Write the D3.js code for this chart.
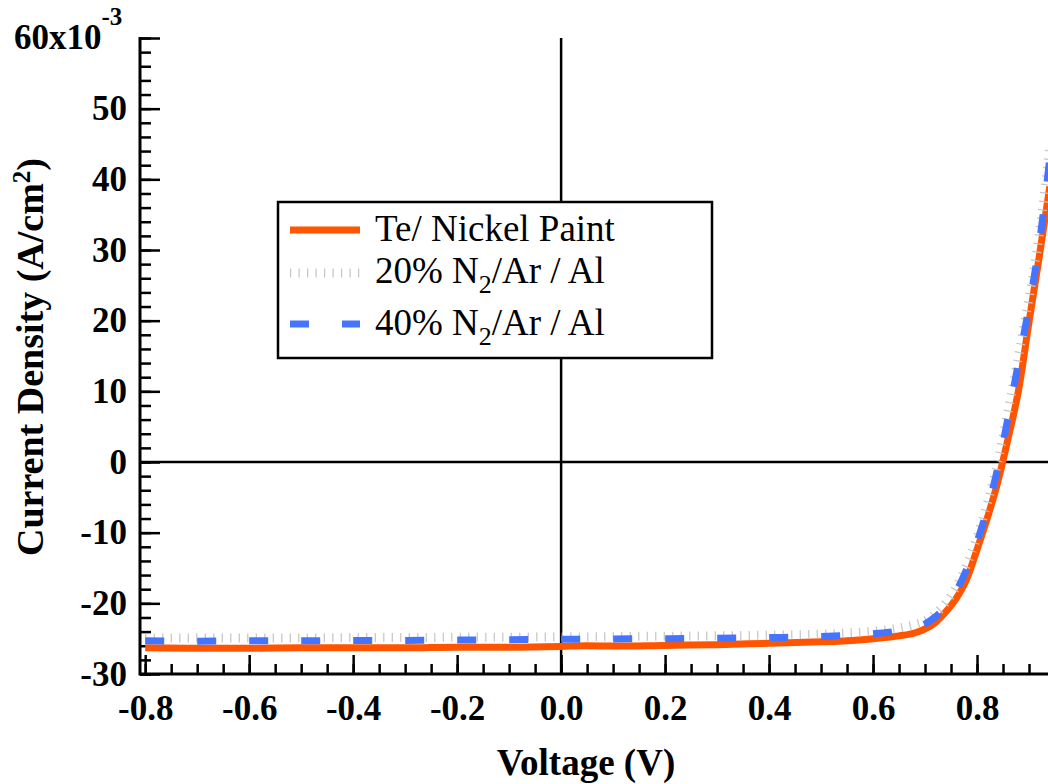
<!DOCTYPE html>
<html>
<head>
<meta charset="utf-8">
<script src="https://cdn.jsdelivr.net/npm/d3@7/dist/d3.min.js"></script>
<style>
  html, body { margin: 0; padding: 0; background: #fff; }
  svg { display: block; }
  text { font-family: "Liberation Serif", "Times New Roman", serif; fill: #000; }
</style>
</head>
<body>
<svg id="chart" width="1048" height="784"></svg>
<script>
// J–V sweep (current density in units of 1e-3 A/cm²)
const voltage = [-0.8, -0.7, -0.6, -0.5, -0.4, -0.3, -0.2, -0.1, 0.0, 0.05, 0.1, 0.2, 0.3, 0.4, 0.5, 0.55,
                 0.6, 0.65, 0.68, 0.7, 0.72, 0.74, 0.76, 0.78, 0.8, 0.82, 0.84, 0.86, 0.88, 0.9, 0.92, 0.94];
const jNickelPaint = [-26.3, -26.35, -26.35, -26.3, -26.3, -26.3, -26.2, -26.2, -26.1, -26.0, -26.05, -25.95, -25.85, -25.65, -25.45, -25.3,
                      -25.0, -24.6, -24.2, -23.6, -22.7, -21.2, -19.3, -16.6, -12.4, -7.9, -2.8, 3.4, 10.2, 19.8, 29.2, 39.0];
const j20N2Ar = [-24.9, -24.9, -24.9, -24.9, -24.85, -24.85, -24.8, -24.8, -24.75, -24.75, -24.7, -24.65, -24.6, -24.5, -24.35, -24.2,
                 -23.95, -23.5, -23.0, -22.5, -21.5, -19.9, -17.7, -14.6, -10.6, -5.8, 0.0, 7.3, 15.1, 23.2, 32.3, 44.5];
const j40N2Ar = [-25.3, -25.35, -25.3, -25.3, -25.25, -25.25, -25.2, -25.15, -25.1, -25.1, -25.05, -25.0, -24.95, -24.85, -24.7, -24.55,
                 -24.3, -23.9, -23.4, -22.9, -21.9, -20.4, -18.3, -15.2, -11.3, -6.6, -0.8, 6.4, 14.2, 22.0, 31.0, 43.0];

const seriesNames = ["Te/ Nickel Paint", "20% N2/Ar / Al", "40% N2/Ar / Al"];
const xTickValues = [-0.8, -0.6, -0.4, -0.2, 0.0, 0.2, 0.4, 0.6, 0.8];
const yTickValues = [-30, -20, -10, 0, 10, 20, 30, 40, 50, 60];

const svg = d3.select("#chart");
const W = 1048;

const x = d3.scaleLinear().domain([-0.81, 1.0]).range([140, 1081]);
const y = d3.scaleLinear().domain([-30, 60]).range([674, 38]);

// zero reference lines
svg.append("line")
  .attr("x1", x(-0.81)).attr("x2", W).attr("y1", y(0)).attr("y2", y(0))
  .attr("stroke", "#000").attr("stroke-width", 2.5);
svg.append("line")
  .attr("x1", x(0)).attr("x2", x(0)).attr("y1", y(60)).attr("y2", y(-30))
  .attr("stroke", "#000").attr("stroke-width", 2.5);

// axes (ticks point into the plot)
const xMinor = d3.range(-0.8, 1.0001, 0.05).map(v => +v.toFixed(2));
const yMinor = d3.range(-30, 60.001, 2);

const gx = svg.append("g").attr("transform", `translate(0,${y(-30)})`);
gx.call(d3.axisBottom(x).tickValues(xMinor).tickSize(-10).tickSizeOuter(0).tickFormat(""));
gx.call(g => g.selectAll(".domain").remove());
const gxMajor = svg.append("g").attr("transform", `translate(0,${y(-30)})`)
  .call(d3.axisBottom(x).tickValues(xTickValues).tickSize(-19).tickSizeOuter(0)
        .tickPadding(21).tickFormat(d => d.toFixed(1)));
gxMajor.select(".domain").remove();
gxMajor.selectAll("text").attr("font-size", 35).attr("font-weight", "bold")
  .attr("font-family", "Liberation Serif, Times New Roman, serif");

const gy = svg.append("g").attr("transform", `translate(${x(-0.81)},0)`);
gy.call(d3.axisLeft(y).tickValues(yMinor).tickSize(-11).tickSizeOuter(0).tickFormat(""));
gy.call(g => g.selectAll(".domain").remove());
const gyMajor = svg.append("g").attr("transform", `translate(${x(-0.81)},0)`)
  .call(d3.axisLeft(y).tickValues(yTickValues).tickSize(-20).tickSizeOuter(0)
        .tickPadding(13).tickFormat(d => d === 60 ? "" : String(d)));
gyMajor.select(".domain").remove();
gyMajor.selectAll("text").attr("font-size", 35).attr("font-weight", "bold")
  .attr("font-family", "Liberation Serif, Times New Roman, serif");

svg.selectAll(".tick line").attr("stroke", "#000").attr("stroke-width", 2.5);

// axis lines
svg.append("line").attr("x1", x(-0.81)).attr("x2", W).attr("y1", y(-30)).attr("y2", y(-30))
  .attr("stroke", "#000").attr("stroke-width", 3);
svg.append("line").attr("x1", x(-0.81)).attr("x2", x(-0.81)).attr("y1", y(60) - 1).attr("y2", y(-30) + 1.5)
  .attr("stroke", "#000").attr("stroke-width", 3);

// top label with exponent
const topLab = svg.append("text").attr("x", 14).attr("y", y(60)).attr("dy", "0.32em")
  .attr("font-size", 35).attr("font-weight", "bold");
topLab.append("tspan").text("60x10");
topLab.append("tspan").attr("font-size", 25).attr("dy", -24).text("-3");

// axis titles
svg.append("text").attr("x", 586).attr("y", 775).attr("text-anchor", "middle")
  .attr("font-size", 37).attr("font-weight", "bold").text("Voltage (V)");
const yTitle = svg.append("text").attr("transform", "translate(43,357) rotate(-90)")
  .attr("text-anchor", "middle").attr("font-size", 38).attr("font-weight", "bold");
yTitle.append("tspan").text("Current Density (A/cm");
yTitle.append("tspan").attr("font-size", 25).attr("dy", -13).text("2");
yTitle.append("tspan").attr("dy", 13).text(")");

// curves
const line = d3.line().x(d => x(d[0])).y(d => y(d[1])).curve(d3.curveMonotoneX);
const styles = [
  { color: "#ff5500", width: 7, dash: null },
  { color: "#c4c4c4", width: 9, dash: "1.2 7.3" },
  { color: "#4575ff", width: 7, dash: "19 33" }
];
const seriesData = [jNickelPaint, j20N2Ar, j40N2Ar];
seriesData.forEach((vals, i) => {
  const s = styles[i];
  svg.append("path")
    .datum(voltage.map((v, k) => [v, vals[k]]))
    .attr("d", line)
    .attr("fill", "none")
    .attr("stroke", s.color)
    .attr("stroke-width", s.width)
    .attr("stroke-dasharray", s.dash)
    .attr("stroke-linejoin", "round");
});

// legend
const lg = svg.append("g");
lg.append("rect").attr("x", 278).attr("y", 202).attr("width", 434).attr("height", 156)
  .attr("fill", "#fff").attr("stroke", "#000").attr("stroke-width", 2.5);
const rowY = [230, 273, 324];
const baseY = [241, 283, 335];
styles.forEach((s, i) => {
  lg.append("line").attr("x1", 290).attr("x2", 360).attr("y1", rowY[i]).attr("y2", rowY[i])
    .attr("stroke", s.color).attr("stroke-width", s.width)
    .attr("stroke-dasharray", s.dash);
  const t = lg.append("text").attr("x", 375).attr("y", baseY[i]).attr("font-size", 37);
  const name = seriesNames[i];
  const idx = name.indexOf("N2");
  if (idx < 0) {
    t.text(name);
  } else {
    t.append("tspan").text(name.slice(0, idx + 1));
    t.append("tspan").attr("font-size", 26).attr("dy", 10).text("2");
    t.append("tspan").attr("dy", -10).text(name.slice(idx + 2));
  }
});
</script>
</body>
</html>
